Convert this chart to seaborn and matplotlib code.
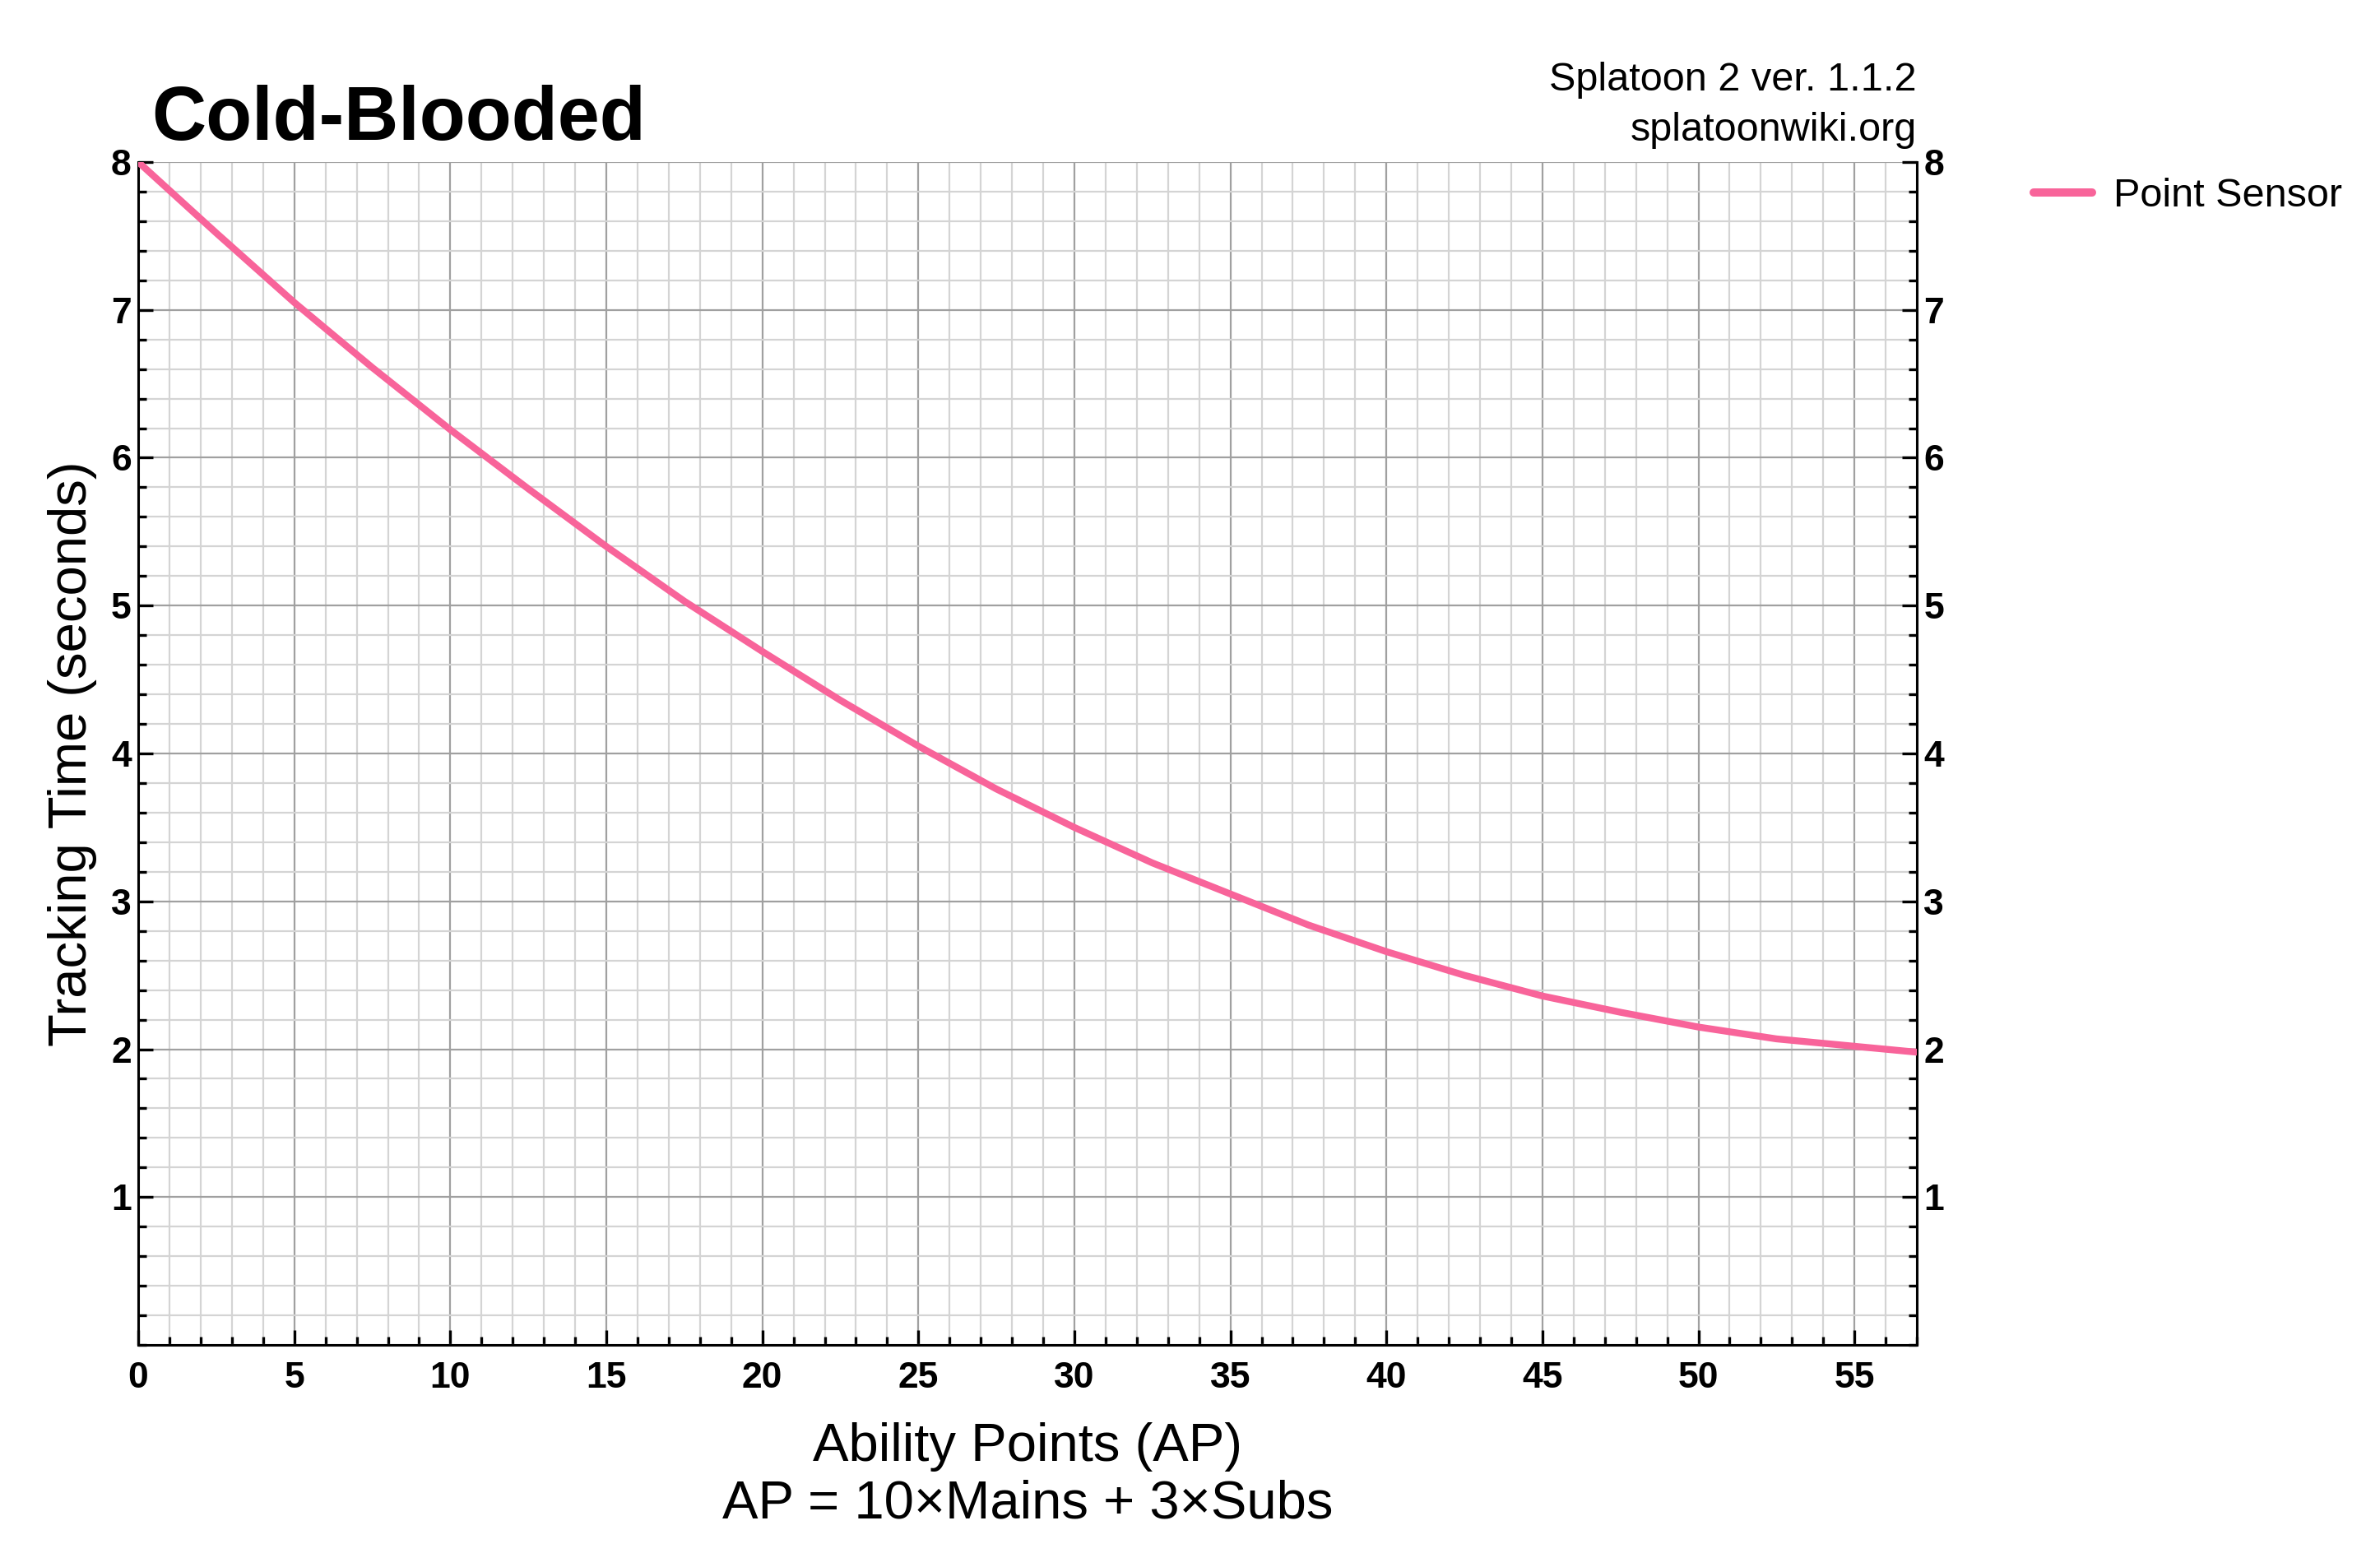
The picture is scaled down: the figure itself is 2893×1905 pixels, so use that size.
import matplotlib
matplotlib.use('Agg')
import matplotlib.pyplot as plt
import seaborn as sns
import pandas as pd
from matplotlib.ticker import MultipleLocator, FixedLocator

# Values
ap_points = [0, 2.5, 5, 7.5, 10, 12.5, 15, 17.5, 20, 22.5, 25, 27.5,
             30, 32.5, 35, 37.5, 40, 42.5, 45, 47.5, 50, 52.5, 55, 57]
tracking_time = [8.00, 7.52, 7.05, 6.61, 6.19, 5.79, 5.40, 5.03, 4.69, 4.36, 4.05, 3.76,
                 3.50, 3.26, 3.05, 2.84, 2.66, 2.50, 2.36, 2.25, 2.15, 2.07, 2.02, 1.98]
series_name = 'Point Sensor'
x_ticks = [0, 5, 10, 15, 20, 25, 30, 35, 40, 45, 50, 55]
y_ticks = [1, 2, 3, 4, 5, 6, 7, 8]

sns.set_theme(style='white')
plt.rcParams['font.family'] = ['Liberation Sans', 'DejaVu Sans']
plt.rcParams['text.color'] = 'black'
plt.rcParams['axes.labelcolor'] = 'black'
plt.rcParams['xtick.color'] = 'black'
plt.rcParams['ytick.color'] = 'black'

df = pd.DataFrame({'AP': ap_points, 'Time': tracking_time, 'Series': series_name})

fig = plt.figure(figsize=(14.465, 9.525), dpi=200)
ax = fig.add_axes([0.0581, 0.1417, 0.7473, 0.7549])

sns.lineplot(data=df, x='AP', y='Time', hue='Series', palette=['#F8649A'],
             linewidth=3.0, ax=ax, legend=False, zorder=5)

ax.set_xlim(0, 57)
ax.set_ylim(0, 8)
ax.xaxis.set_major_locator(FixedLocator(x_ticks))
ax.xaxis.set_minor_locator(MultipleLocator(1))
ax.yaxis.set_major_locator(FixedLocator(y_ticks))
ax.yaxis.set_minor_locator(MultipleLocator(0.2))

ax.grid(which='minor', color='#d4d4d4', linewidth=0.8)
ax.grid(which='major', color='#a0a0a0', linewidth=0.8)
ax.set_axisbelow(True)

for side in ['left', 'bottom', 'right']:
    ax.spines[side].set_visible(True)
    ax.spines[side].set_color('black')
    ax.spines[side].set_linewidth(1.1)
ax.spines['top'].set_visible(False)

ax.tick_params(which='both', direction='in', color='black', width=1.2)
ax.tick_params(which='major', length=6.5)
ax.tick_params(which='minor', length=3.5)
ax.tick_params(axis='x', which='both', bottom=True, top=False, pad=7, labelsize=16)
ax.tick_params(axis='y', which='both', left=True, right=True, labelleft=True,
               labelright=True, pad=3, labelsize=16)
for lab in ax.get_xticklabels() + ax.get_yticklabels():
    lab.set_fontweight('bold')
for t in ax.yaxis.get_major_ticks():
    t.label2.set_fontweight('bold')

ax.set_xlabel('Ability Points (AP)\nAP = 10×Mains + 3×Subs', fontsize=23.5, labelpad=12,
              linespacing=1.2)
ax.set_ylabel('Tracking Time (seconds)', fontsize=23.5, labelpad=6)

# Title and source text
fig.text(0.0637, 0.9108, 'Cold-Blooded', fontsize=33, fontweight='bold', va='baseline', ha='left')
fig.text(0.8054, 0.9490, 'Splatoon 2 ver. 1.1.2', fontsize=17.5, ha='right', va='center')
fig.text(0.8054, 0.9170, 'splatoonwiki.org', fontsize=17.5, ha='right', va='center')

handle = plt.Line2D([], [], color='#F8649A', linewidth=3.6)
fig.legend([handle], [series_name], loc='center left', bbox_to_anchor=(0.8545, 0.875),
           frameon=False, fontsize=17.5, handlelength=1.45, handletextpad=0.55,
           borderpad=0, borderaxespad=0)

fig.savefig('out.png', dpi=200)
